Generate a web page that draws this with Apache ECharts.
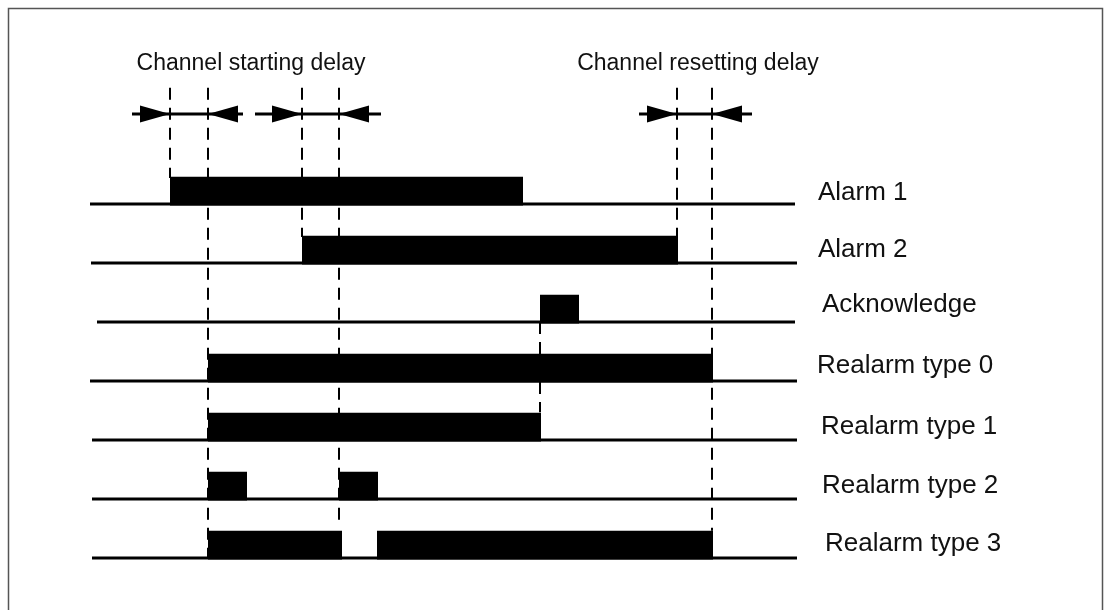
<!DOCTYPE html>
<html>
<head>
<meta charset="utf-8">
<script src="https://cdn.jsdelivr.net/npm/echarts@6/dist/echarts.min.js"></script>
<style>
  html, body { margin: 0; padding: 0; background: #fff; }
  #chart-container { width: 1111px; height: 610px; }
</style>
</head>
<body>
<div id="chart-container"></div>
<script>
// signal names, one row each (row index = y value)
const signals = ['Alarm 1', 'Alarm 2', 'Acknowledge', 'Realarm type 0', 'Realarm type 1', 'Realarm type 2', 'Realarm type 3'];
// where each trace starts / ends on the time axis
const traceFrom = [0, 1, 7, 0, 2, 2, 2];
const traceTo = [705, 707, 705, 707, 707, 707, 707];
// high periods of each signal [on, off]
const pulses = [
  [[80, 433]],
  [[212, 588]],
  [[450, 489]],
  [[118, 623]],
  [[118, 451]],
  [[118, 157], [249, 288]],
  [[118, 252], [287, 623]]
];
// dashed guide lines: time, from row, to row
const guideTimes = [80, 118, 212, 249, 450, 587, 622];
const guideFrom = [-1.97, -1.97, -1.97, -1.97, 2, -1.97, -1.97];
const guideTo = [-0.44, 6, 0.56, 5.45, 3.53, 0.56, 5.54];
// delay arrows: tail start, delay start, delay end, tail end
const delaySpans = [[42, 80, 118, 153], [165, 212, 249, 291], [549, 587, 622, 662]];
const delayRow = -1.525;
const delayTitles = ['Channel starting delay', 'Channel resetting delay'];

const FONT = '"Liberation Sans", Arial, Helvetica, sans-serif';

function init() {
  const pulseHeight = 0.46;
  const headLen = 30, headHalf = 8.5;
  const labelDx = [21, 21, 25, 20, 24, 25, 28];
  const labelDy = [-11, -13, -17, -15, -13, -13, -14];

  let blockData = [];
  pulses.forEach((list, row) => list.forEach(p => blockData.push([p[0], p[1], row])));

  let traceSeries = signals.map((name, row) => ({
    name,
    type: 'line',
    symbol: 'none',
    silent: true,
    z: 3,
    lineStyle: { color: '#000', width: 3 },
    data: [[traceFrom[row], row], [traceTo[row], row]]
  }));

  let guideSeries = {
    type: 'custom',
    z: 1,
    silent: true,
    data: guideTimes.map((t, i) => [t, guideFrom[i], guideTo[i]]),
    renderItem(params, api) {
      let a = api.coord([api.value(0), api.value(1)]);
      let b = api.coord([api.value(0), api.value(2)]);
      return {
        type: 'line',
        shape: { x1: a[0], y1: a[1], x2: b[0], y2: b[1] },
        style: { stroke: '#000', lineWidth: 2, lineDash: [12, 8] }
      };
    }
  };

  let blockSeries = {
    type: 'custom',
    z: 4,
    silent: true,
    data: blockData,
    renderItem(params, api) {
      let row = api.value(2);
      let a = api.coord([api.value(0), row - pulseHeight]);
      let b = api.coord([api.value(1), row]);
      return {
        type: 'rect',
        shape: { x: a[0], y: a[1], width: b[0] - a[0], height: b[1] - a[1] + 1.5 },
        style: { fill: '#000' }
      };
    }
  };

  let arrowSeries = {
    type: 'custom',
    z: 5,
    silent: true,
    data: delaySpans.map(s => [s[0], s[1], s[2], s[3], delayRow]),
    renderItem(params, api) {
      let y = api.coord([0, api.value(4)])[1];
      let x0 = api.coord([api.value(0), 0])[0];
      let x1 = api.coord([api.value(1), 0])[0];
      let x2 = api.coord([api.value(2), 0])[0];
      let x3 = api.coord([api.value(3), 0])[0];
      let st = { stroke: '#000', lineWidth: 3 };
      return {
        type: 'group',
        children: [
          { type: 'line', shape: { x1: x0, y1: y, x2: x3, y2: y }, style: st },
          { type: 'polygon', shape: { points: [[x1, y], [x1 - headLen, y - headHalf], [x1 - headLen, y + headHalf]] }, style: { fill: '#000' } },
          { type: 'polygon', shape: { points: [[x2, y], [x2 + headLen, y - headHalf], [x2 + headLen, y + headHalf]] }, style: { fill: '#000' } }
        ]
      };
    }
  };

  let labelSeries = {
    type: 'custom',
    z: 6,
    silent: true,
    clip: false,
    data: signals.map((name, row) => [traceTo[row], row]),
    renderItem(params, api) {
      let row = params.dataIndex;
      let p = api.coord([707, row]);
      return {
        type: 'text',
        x: p[0] + labelDx[row],
        y: p[1] + labelDy[row],
        style: {
          text: signals[row],
          fill: '#111',
          font: '26px ' + FONT,
          verticalAlign: 'middle',
          align: 'left'
        }
      };
    }
  };

  let option = {
    animation: false,
    backgroundColor: '#fff',
    grid: { left: 90, right: 314, top: 86, bottom: 22.5 },
    xAxis: { type: 'value', min: 0, max: 707, show: false },
    yAxis: { type: 'value', min: -2, max: 6.5, inverse: true, show: false },
    graphic: [
      {
        type: 'rect',
        shape: { x: 8.5, y: 8.5, width: 1094, height: 640 },
        style: { fill: 'none', stroke: '#555', lineWidth: 1.5 },
        z: 0
      },
      {
        type: 'text', x: 251, y: 64,
        style: { text: delayTitles[0], font: '23px ' + FONT, fill: '#111', align: 'center', verticalAlign: 'middle' }
      },
      {
        type: 'text', x: 698, y: 64,
        style: { text: delayTitles[1], font: '23px ' + FONT, fill: '#111', align: 'center', verticalAlign: 'middle' }
      }
    ],
    series: [guideSeries, ...traceSeries, blockSeries, arrowSeries, labelSeries]
  };

  let myChart = echarts.init(document.getElementById('chart-container'));
  myChart.setOption(option);
}
init();
</script>
</body>
</html>
